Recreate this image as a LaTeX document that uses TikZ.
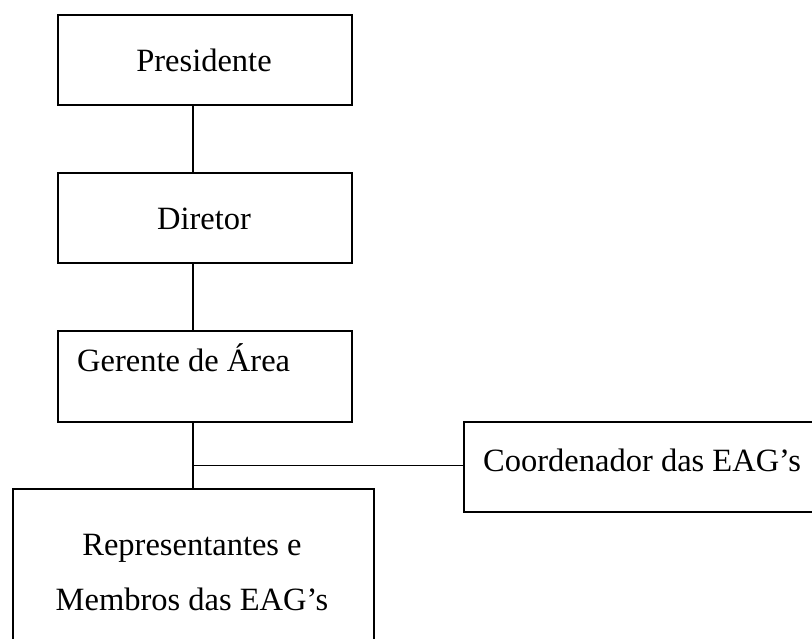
\documentclass[tikz,border=0pt]{standalone}
\usepackage{fontspec}
\setmainfont{Liberation Serif}
\begin{document}
\begin{tikzpicture}[x=1pt,y=-1pt,
  box/.style={draw=black,line width=1.6pt,rectangle,inner sep=0pt,anchor=north west},
  lbl/.style={anchor=base,inner sep=0pt,font=\fontsize{32.5}{39}\selectfont},
  conn/.style={draw=black,line width=1.6pt}]
\useasboundingbox (0,0) rectangle (812,639);
\begin{scope}
\clip (0,0) rectangle (812,639);
\node[box,minimum width=294pt,minimum height=90pt] (pres) at (57,14) {};
\node[box,minimum width=294pt,minimum height=90pt] (dir) at (57,172) {};
\node[box,minimum width=294pt,minimum height=91pt] (ger) at (57,330) {};
\node[box,minimum width=380pt,minimum height=90pt] (coord) at (463,421) {};
\node[box,minimum width=361pt,minimum height=180pt] (rep) at (12,488) {};
\end{scope}
\node[lbl] (tpres) at (204,71.7) {Presidente};
\node[lbl] (tdir) at (204,230) {Diretor};
\node[lbl,anchor=base west] (tger) at (77,371) {Gerente de Área};
\node[lbl,anchor=base west] (tcoord) at (483,471) {Coordenador das EAG’s};
\node[lbl] (trep1) at (192,555) {Representantes e};
\node[lbl] (trep2) at (192,610) {Membros das EAG’s};
\coordinate (j) at (193,465.5);
\draw[conn] (pres.south -| j) -- (dir.north -| j);
\draw[conn] (dir.south -| j) -- (ger.north -| j);
\draw[conn] (ger.south -| j) -- (rep.north -| j);
\draw[conn] (j) -- (j -| coord.west);
\end{tikzpicture}
\end{document}
